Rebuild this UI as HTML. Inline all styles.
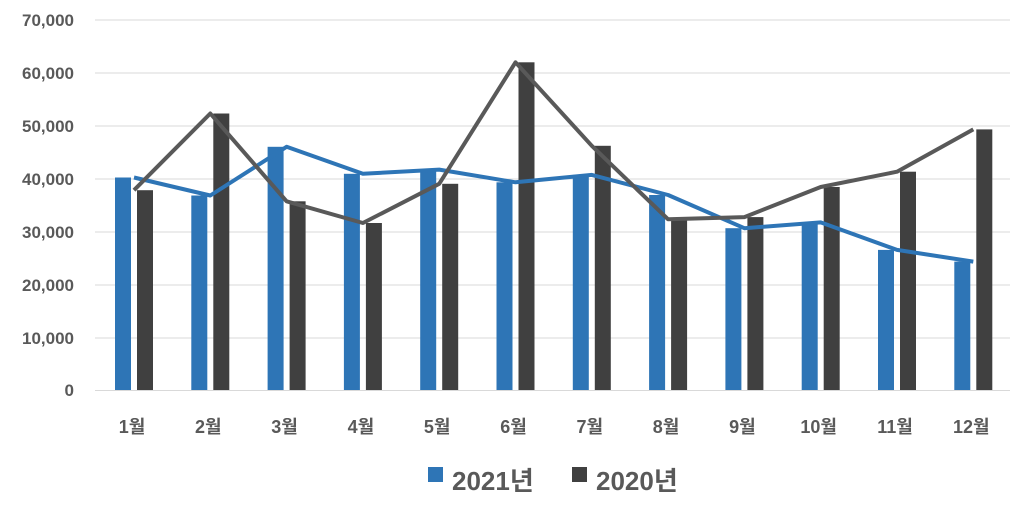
<!DOCTYPE html>
<html><head><meta charset="utf-8"><style>
html,body{margin:0;padding:0;background:#fff;}
svg text{font-family:"Liberation Sans","Noto Sans CJK KR",sans-serif;font-weight:bold;fill:#595959;}
</style></head><body>
<svg width="1024" height="503" viewBox="0 0 1024 503" xmlns="http://www.w3.org/2000/svg">
<g stroke="#d9d9d9" stroke-width="1">
<line x1="95" x2="1010" y1="20" y2="20"/><line x1="95" x2="1010" y1="73" y2="73"/>
<line x1="95" x2="1010" y1="126" y2="126"/><line x1="95" x2="1010" y1="179" y2="179"/>
<line x1="95" x2="1010" y1="232" y2="232"/><line x1="95" x2="1010" y1="285" y2="285"/>
<line x1="95" x2="1010" y1="338" y2="338"/><line x1="95" x2="1010" y1="390.5" y2="390.5"/>
</g>
<g font-size="17" text-anchor="end">
<text x="74" y="26">70,000</text><text x="74" y="79">60,000</text><text x="74" y="132">50,000</text>
<text x="74" y="185">40,000</text><text x="74" y="238">30,000</text><text x="74" y="291">20,000</text>
<text x="74" y="344">10,000</text><text x="74" y="396">0</text>
</g>
<g fill="#2e75b6">
<rect x="115" y="177.5" width="16" height="212.5"/>
<rect x="191.3" y="195.5" width="16" height="194.5"/>
<rect x="267.6" y="146.8" width="16" height="243.2"/>
<rect x="343.9" y="173.8" width="16" height="216.2"/>
<rect x="420.2" y="169.6" width="16" height="220.4"/>
<rect x="496.5" y="182.3" width="16" height="207.7"/>
<rect x="572.8" y="174.9" width="16" height="215.1"/>
<rect x="649.1" y="195" width="16" height="195"/>
<rect x="725.4" y="228.2" width="16" height="161.8"/>
<rect x="801.7" y="222.4" width="16" height="167.6"/>
<rect x="878" y="249.9" width="16" height="140.1"/>
<rect x="954.3" y="261.6" width="16" height="128.4"/>
</g>
<g fill="#404040">
<rect x="137" y="190.2" width="16" height="199.8"/>
<rect x="213.3" y="113.5" width="16" height="276.5"/>
<rect x="289.6" y="201.3" width="16" height="188.7"/>
<rect x="365.9" y="223" width="16" height="167"/>
<rect x="442.2" y="183.8" width="16" height="206.2"/>
<rect x="518.5" y="62.3" width="16" height="327.7"/>
<rect x="594.8" y="145.8" width="16" height="244.2"/>
<rect x="671.1" y="219.3" width="16" height="170.7"/>
<rect x="747.4" y="217.1" width="16" height="172.9"/>
<rect x="823.7" y="187" width="16" height="203"/>
<rect x="900" y="171.7" width="16" height="218.3"/>
<rect x="976.3" y="129.4" width="16" height="260.6"/>
</g>
<polyline fill="none" stroke="#2e75b6" stroke-width="4" stroke-linejoin="round" points="134,177.5 210.3,195.5 286.6,146.8 362.9,173.8 439.2,169.6 515.5,182.3 591.8,174.9 668.1,195 744.4,228.2 820.7,222.4 897,249.9 973.3,261.6"/>
<polyline fill="none" stroke="#595959" stroke-width="4" stroke-linejoin="round" points="134,190.2 210.3,113.5 286.6,201.3 362.9,223 439.2,183.8 515.5,62.3 591.8,145.8 668.1,219.3 744.4,217.1 820.7,187 897,171.7 973.3,129.4"/>
<g font-size="18" text-anchor="middle">
<text x="132" y="433">1월</text><text x="208.3" y="433">2월</text><text x="284.6" y="433">3월</text>
<text x="360.9" y="433">4월</text><text x="437.2" y="433">5월</text><text x="513.5" y="433">6월</text>
<text x="589.8" y="433">7월</text><text x="666.1" y="433">8월</text><text x="742.4" y="433">9월</text>
<text x="818.7" y="433">10월</text><text x="895" y="433">11월</text><text x="971.3" y="433">12월</text>
</g>
<rect x="428" y="467" width="15" height="15" fill="#2e75b6"/>
<text x="452" y="490" font-size="26">2021년</text>
<rect x="572" y="467" width="15" height="15" fill="#404040"/>
<text x="596" y="490" font-size="26">2020년</text>
</svg>
</body></html>
